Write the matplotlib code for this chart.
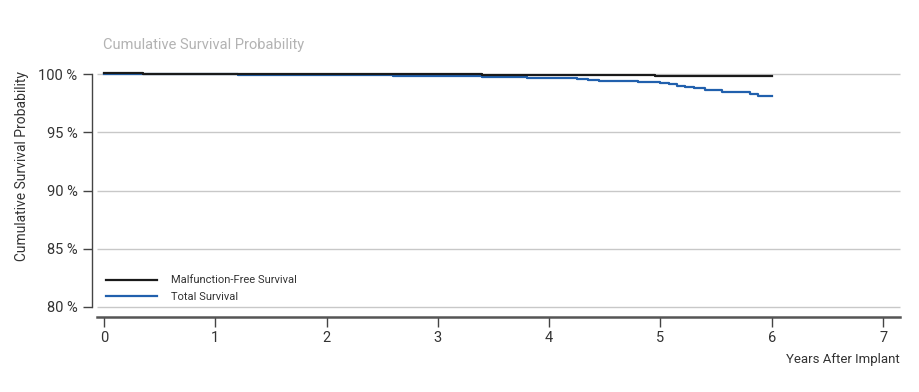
import matplotlib
matplotlib.use("Agg")
import matplotlib.pyplot as plt

plt.rcParams['font.family'] = ['Roboto', 'DejaVu Sans']

# survival curves (years, %)
malf_years = [0, 0.35, 2.9, 3.4, 4.95, 6.0]
malf_pct = [100.05, 100.0, 99.98, 99.95, 99.8, 99.8]

total_years = [0, 0.5, 1.2, 2.0, 2.6, 3.0, 3.4, 3.8, 4.1, 4.25, 4.35, 4.45, 4.8,
               4.9, 5.0, 5.08, 5.15, 5.22, 5.3, 5.4, 5.55, 5.8, 5.88, 6.0]
total_pct = [100.0, 99.98, 99.95, 99.9, 99.85, 99.8, 99.72, 99.68, 99.62, 99.55,
             99.48, 99.42, 99.35, 99.28, 99.2, 99.1, 98.98, 98.88, 98.78, 98.62,
             98.42, 98.3, 98.1, 98.1]

y_ticks = [80, 85, 90, 95, 100]
y_labels = ['80 %', '85 %', '90 %', '95 %', '100 %']
x_ticks = [0, 1, 2, 3, 4, 5, 6, 7]

W, H = 919, 392
fig = plt.figure(figsize=(W / 100, H / 100), dpi=100)
ax = fig.add_axes([92 / W, 1 - 307 / H, (900 - 92) / W, (307 - 74) / H])

x0, x1 = -0.108, 7.152
ax.set_xlim(x0, x1)
ax.set_ylim(80, 100)

for y in y_ticks:
    ax.hlines(y, -0.063, x1, color='#c8c8c8', lw=1.0, zorder=1, clip_on=False)

ax.step(malf_years, malf_pct, where='post', color='#1a1a1a', lw=1.6,
        label='Malfunction-Free Survival', clip_on=False, zorder=4)
ax.step(total_years, total_pct, where='post', color='#2160ad', lw=1.6,
        label='Total Survival', clip_on=False, zorder=3)

for s in ['top', 'right']:
    ax.spines[s].set_visible(False)
ax.spines['left'].set_bounds(80, 100)
ax.spines['left'].set_color('#444444')
ax.spines['left'].set_linewidth(1.0)
ax.spines['bottom'].set_position(('outward', 7.2))
ax.spines['bottom'].set_bounds(-0.063, x1)
ax.spines['bottom'].set_color('#555555')
ax.spines['bottom'].set_linewidth(1.8)

ax.set_yticks(y_ticks)
ax.set_yticklabels(y_labels, fontsize=10.5, color='#333333')
ax.set_xticks(x_ticks)
ax.set_xticklabels([str(x) for x in x_ticks], fontsize=10.5, color='#333333')
ax.tick_params(axis='y', length=6.5, width=1, color='#444444', pad=4)
ax.tick_params(axis='x', length=7.2, width=1, color='#444444', pad=3)

fig.text(22 / W, 1 - 166 / H, 'Cumulative Survival Probability', rotation=90,
         ha='center', va='center', fontsize=10, color='#333333')
fig.text(103 / W, 1 - 45 / H, 'Cumulative Survival Probability',
         ha='left', va='center', fontsize=10.5, color='#b3b3b3')
fig.text(900 / W, 1 - 360 / H, 'Years After Implant',
         ha='right', va='center', fontsize=9.5, color='#333333')

ax.legend(frameon=False, loc='lower left', bbox_to_anchor=(0.0075, -0.01),
          fontsize=8, handlelength=4.6, handletextpad=1.3, labelspacing=0.55,
          borderaxespad=0.3, labelcolor='#333333')

fig.savefig('out.png', dpi=100)
